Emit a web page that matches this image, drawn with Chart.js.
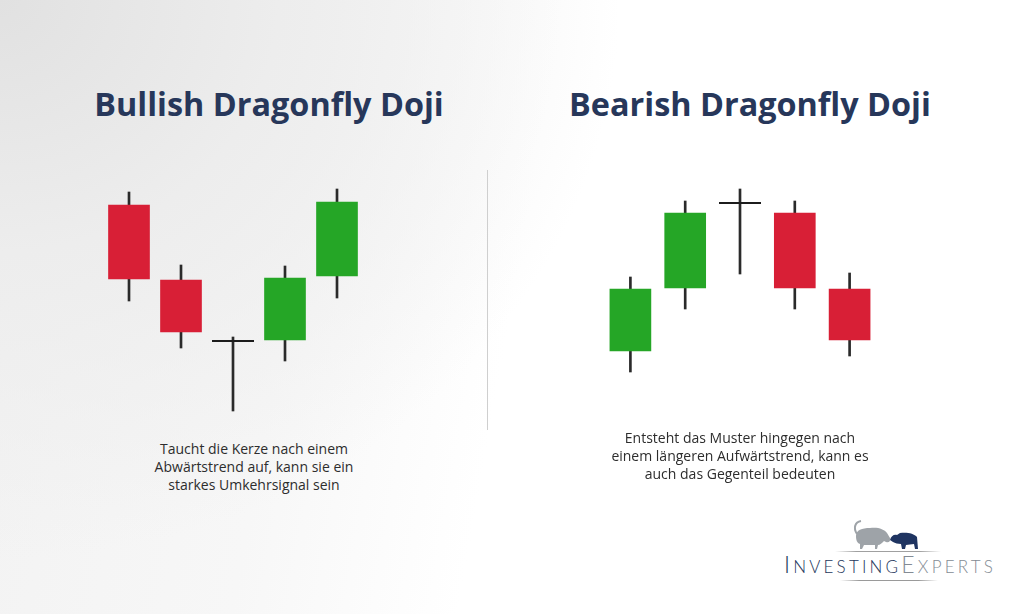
<!DOCTYPE html>
<html><head><meta charset="utf-8">
<script src="https://cdn.jsdelivr.net/npm/chart.js@4/dist/chart.umd.min.js"></script>
<style>
html,body{margin:0;padding:0;}
body{width:1024px;height:614px;position:relative;overflow:hidden;
background:
 radial-gradient(ellipse 620px 560px at 0px 0px, #e1e1e1 0%, #ededed 45%, rgba(255,255,255,0) 100%),
 linear-gradient(100deg, #f2f2f2 0%, #f7f7f7 30%, #ffffff 50%, #ffffff 100%);
font-family:"Open Sans",sans-serif;}
.title{position:absolute;top:83px;width:440px;text-align:center;font-weight:700;font-size:32.4px;line-height:40px;color:#27375a;}
.cap{position:absolute;width:340px;text-align:center;font-size:14px;line-height:18px;color:#2d2d2d;}
.wrap{position:absolute;top:130px;height:300px;}
#divider{position:absolute;left:487px;top:170px;width:1px;height:260px;background:#cfcfcf;}
#logo{position:absolute;left:760px;top:552px;width:260px;text-align:center;font-family:"Lato",sans-serif;font-weight:300;color:#25375c;letter-spacing:3.2px;white-space:nowrap;line-height:24px;}
#logo .big{font-size:23px;}
#logo .sm{font-size:17px;}
#logo .g{color:#848b94;}
.ln{position:absolute;height:1px;}
</style></head>
<body>
<div class="title" style="left:49px;">Bullish Dragonfly Doji</div>
<div class="title" style="left:530px;">Bearish Dragonfly Doji</div>
<div id="divider"></div>
<div class="wrap" style="left:103px;width:260px;"><canvas id="bull" width="260" height="300"></canvas></div>
<div class="wrap" style="left:603px;width:274px;"><canvas id="bear" width="274" height="300"></canvas></div>
<div class="cap" style="left:84px;top:440px;">Taucht die Kerze nach einem<br>Abwärtstrend auf, kann sie ein<br>starkes Umkehrsignal sein</div>
<div class="cap" style="left:570px;top:429px;">Entsteht das Muster hingegen nach<br>einem längeren Aufwärtstrend, kann es<br>auch das Gegenteil bedeuten</div>
<svg style="position:absolute;left:840px;top:515px;" width="90" height="40" viewBox="0 0 90 40">
 <path d="M16,21 C16,15 22,13 30,13 C38,12 44,14 47,18 L50,23 C51,26 49,28 46,27 L44,26 C42,28 40,30 38,30 L37,34 L35,34 L35,30 L24,30 L22,34 L20,34 L20,29 C17,28 16,25 16,21 Z" fill="#9ea3a8"/>
 <path d="M17,19 C13,13 15,7 21,6" fill="none" stroke="#9ea3a8" stroke-width="2"/>
 <path d="M50,25 C51,21 54,19 57,20 L60,18 C66,17 74,18 77,22 L78,34 L75,34 L74,29 L66,30 L65,34 L62,34 L61,29 C58,29 55,28 53,27 Z" fill="#1f3461"/>
</svg>
<div class="ln" style="left:835px;top:551px;width:106px;background:linear-gradient(90deg,rgba(150,150,150,0),#a0a0a0 20%,#a0a0a0 80%,rgba(150,150,150,0));"></div>
<div id="logo"><span class="big">I</span><span class="sm">NVESTING</span><span class="big g">E</span><span class="sm g">XPERTS</span></div>
<div class="ln" style="left:840px;top:580px;width:98px;background:linear-gradient(90deg,rgba(150,150,150,0),#9a9a9a 20%,#9a9a9a 80%,rgba(150,150,150,0));"></div>
<script>
// Candle labels
const candleLabels = ['1','2','3','4','5'];
// Bullish dragonfly doji (after downtrend)
const bullOpen  = [225, 150, 89,  90, 154];
const bullClose = [151,  98, 89, 152, 228];
const bullHigh  = [238, 165, 93, 164, 241];
const bullLow   = [129,  82, 19,  69, 132];
// Bearish dragonfly doji (after uptrend)
const bearOpen  = [ 79, 142, 227, 217, 141];
const bearClose = [141, 217, 227, 142,  90];
const bearHigh  = [153, 229, 241, 229, 157];
const bearLow   = [ 58, 121, 156, 121,  74];
// price range
const priceMin = 0, priceMax = 300;

const GREEN = '#25a626', RED = '#d81f36', WICK = '#2a2a2a';

function makeChart(id, opens, closes, highs, lows){
  const bodyColors = opens.map((o,i)=> closes[i] > o ? GREEN : (closes[i] < o ? RED : 'rgba(0,0,0,0)'));
  new Chart(document.getElementById(id), {
    type: 'bar',
    data: {
      labels: candleLabels,
      datasets: [
        { type:'bar', order:0, grouped:false, barThickness:41,
          data: opens.map((o,i)=>[Math.min(o,closes[i]), Math.max(o,closes[i])]),
          backgroundColor: bodyColors, borderWidth:0 },
        { type:'line', order:1, showLine:false, clip:false,
          data: opens.map((o,i)=> o === closes[i] ? o : null),
          pointStyle:'line', pointRadius:21, pointHoverRadius:21,
          pointBorderWidth:2, pointBorderColor:'#1c1c1c', pointBackgroundColor:'#1c1c1c' },
        { type:'bar', order:2, grouped:false, barThickness:2,
          data: lows.map((l,i)=>[l, highs[i]]),
          backgroundColor: WICK, borderWidth:0 }
      ]
    },
    options: {
      responsive:false, animation:false, devicePixelRatio:1,
      layout:{padding:0, autoPadding:false},
      plugins:{legend:{display:false}, tooltip:{enabled:false}},
      events:[],
      scales:{
        x:{type:'category', display:false, offset:true},
        y:{min:priceMin, max:priceMax, display:false}
      }
    }
  });
}
makeChart('bull', bullOpen, bullClose, bullHigh, bullLow);
makeChart('bear', bearOpen, bearClose, bearHigh, bearLow);
</script>
</body></html>
